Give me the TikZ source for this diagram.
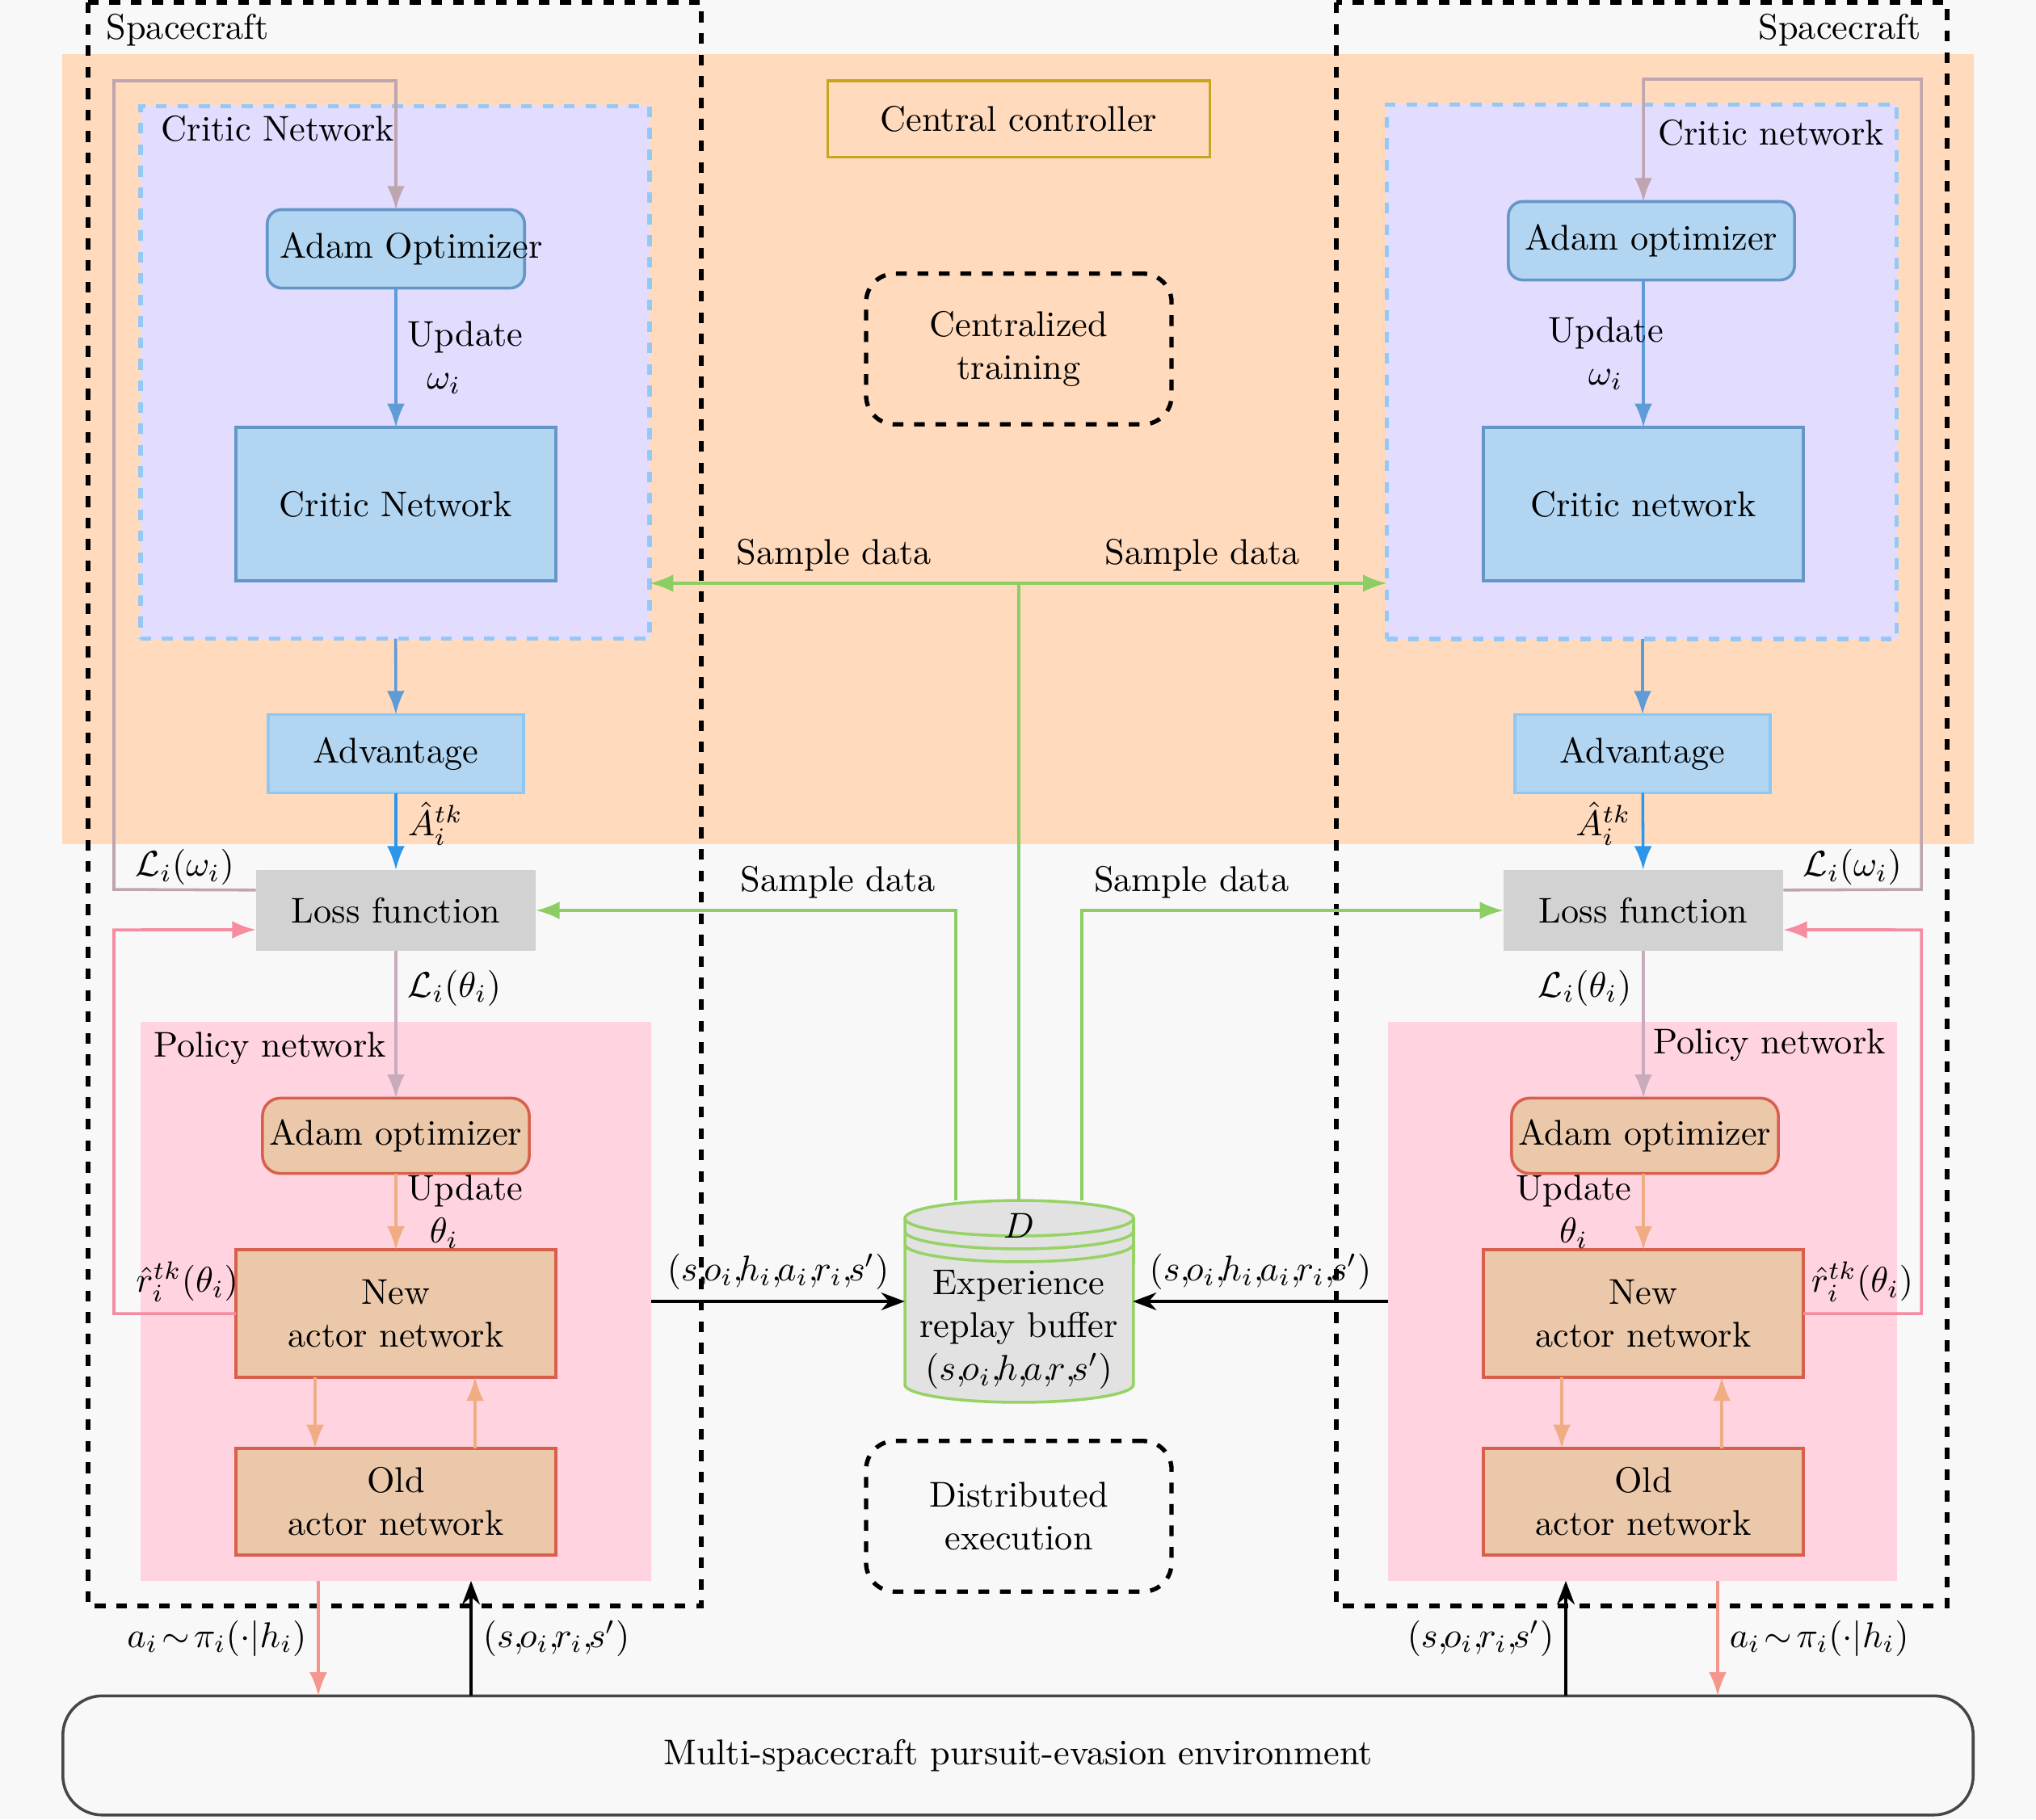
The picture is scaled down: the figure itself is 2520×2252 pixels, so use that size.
\documentclass[tikz,border=0pt]{standalone}
\usepackage{amsmath}
\usepackage{amssymb}
\usepackage{tikz}
\usetikzlibrary{arrows.meta}

\definecolor{bggray}{RGB}{248,248,248}
\definecolor{peachbg}{RGB}{255,218,188}
\definecolor{cregfill}{RGB}{226,220,255}
\definecolor{cregedge}{RGB}{150,200,245}
\definecolor{pregfill}{RGB}{255,211,224}
\definecolor{critfill}{RGB}{178,214,242}
\definecolor{critedge}{RGB}{100,150,200}
\definecolor{advedge}{RGB}{140,200,245}
\definecolor{lossfill}{RGB}{210,210,210}
\definecolor{actfill}{RGB}{236,200,170}
\definecolor{actedge}{RGB}{215,95,75}
\definecolor{ctrledge}{RGB}{200,165,30}
\definecolor{envedge}{RGB}{70,70,70}
\definecolor{critln}{RGB}{95,155,215}
\definecolor{advln}{RGB}{45,150,235}
\definecolor{fbln}{RGB}{190,165,175}
\definecolor{polln}{RGB}{200,172,190}
\definecolor{actln}{RGB}{240,172,130}
\definecolor{pinkln}{RGB}{245,140,160}
\definecolor{envln}{RGB}{245,150,140}
\definecolor{greenln}{RGB}{140,205,100}
\definecolor{buffill}{RGB}{226,226,226}
\definecolor{bufedge}{RGB}{150,210,100}

\newcommand{\tc}{{,}\mkern-2mu}

\begin{document}
\begin{tikzpicture}[x=0.00793cm, y=-0.00793cm,
    every node/.style={outer sep=0pt},
    critbox/.style={draw=critedge, fill=critfill, thick, minimum width=3.14cm, minimum height=1.51cm},
    cadam/.style={draw=critedge, fill=critfill, thick, rounded corners=4pt, minimum height=0.77cm, inner xsep=0pt},
    advbox/.style={draw=advedge, fill=critfill, thick, minimum width=2.51cm, minimum height=0.77cm},
    lossbox/.style={fill=lossfill, minimum width=2.75cm, minimum height=0.8cm},
    padam/.style={draw=actedge, fill=actfill, thick, rounded corners=5pt, minimum width=2.62cm, minimum height=0.74cm, inner xsep=1pt},
    actbox/.style={draw=actedge, fill=actfill, thick, minimum width=3.14cm, align=center},
    phase/.style={draw, very thick, dashed, rounded corners=8pt, minimum width=3cm, minimum height=1.48cm, align=center},
    ctrlbox/.style={draw=ctrledge, thick, minimum width=3.75cm, minimum height=0.75cm},
    envbox/.style={draw=envedge, fill=bggray, thick, rounded corners=11pt, minimum width=18.76cm, minimum height=1.17cm},
    creg/.style={draw=cregedge, fill=cregfill, very thick, dashed},
    preg/.style={fill=pregfill},
    scbox/.style={very thick, dashed},
    cline/.style={-Latex, thick, draw=critln},
    aline/.style={-Latex, thick, draw=advln},
    fline/.style={-Latex, thick, draw=fbln},
    qline/.style={-Latex, thick, draw=polln},
    tline/.style={-Latex, thick, draw=actln},
    pline/.style={-Latex, thick, draw=pinkln},
    eline/.style={-Latex, thick, draw=envln},
    gline/.style={thick, draw=greenln},
    kline/.style={-Stealth, thick}]

\useasboundingbox (0,0) rectangle (2520,2252);
\fill[bggray] (0,0) rectangle (2520,2252);
% centralized training band
\fill[peachbg] (77,67) rectangle (2443,1045);

% critic and policy regions
\node[creg, minimum width=5cm, minimum height=5.23cm] (lcreg) at (489,461) {};
\node[creg, minimum width=5.01cm, minimum height=5.25cm] (rcreg) at (2032,460) {};
\node[preg, minimum width=5.02cm, minimum height=5.49cm] (lpreg) at (490,1611) {};
\node[preg, minimum width=5cm, minimum height=5.49cm] (rpreg) at (2033,1611) {};

% spacecraft boxes
\draw[scbox] (109,3) rectangle (868,1988);
\draw[scbox] (1654,3) rectangle (2410,1988);

\node (lsc) at (232,37) {Spacecraft};
\node (rsc) at (2277,37) {Spacecraft};
\node (lcrt) at (344,159) {Critic Network};
\node (rcrt) at (2192,164) {Critic network};
\node (lpol) at (334,1298) {Policy network};
\node (rpol) at (2190,1294) {Policy network};

% central part
\node[ctrlbox] (ctrl) at (1261,147) {Central controller};
\node[phase] (ctrain) at (1261,432) {Centralized\\training};
\node[phase] (dexec) at (1261,1877) {Distributed\\execution};

\node (buf) at (1261,1611) [minimum width=2.24cm, minimum height=1.98cm] {};
\path[draw=bufedge, fill=buffill, thick] (1120,1508) -- (1120,1714)
    arc[start angle=180, end angle=360, x radius=1.122cm, y radius=0.174cm]
    -- (1403,1508)
    arc[start angle=0, end angle=180, x radius=1.122cm, y radius=0.174cm] -- cycle;
\foreach \dy in {0,16,32}
    \draw[bufedge, thick] (1120,1508+\dy) arc[start angle=180, end angle=360, x radius=1.122cm, y radius=0.174cm];
\node (bufd) at (1261,1517) {$D$};
\node[align=center] (buftxt) at (1261,1646) {Experience\\replay buffer\\$(s\tc o_i\tc h\tc a\tc r\tc s')$};

\node[envbox] (env) at (1260,2173) {Multi-spacecraft pursuit-evasion environment};

% left agent
\node[cadam, minimum width=2.37cm, inner xsep=-5pt] (ladam) at (490,308) {\hspace*{0.3cm}Adam Optimizer};
\node[critbox] (lcrit) at (490,624) {Critic Network};
\node[advbox] (ladv) at (490,933) {Advantage};
\node[lossbox] (lloss) at (490,1127) {Loss function};
\node[padam] (lpadam) at (490,1406) {Adam optimizer};
\node[actbox, minimum height=1.25cm] (lnew) at (490,1626) {New\\actor network};
\node[actbox, minimum height=1.05cm] (lold) at (490,1859) {Old\\actor network};

% right agent
\node[cadam, minimum width=2.81cm, inner xsep=2pt] (radam) at (2044,298) {Adam optimizer};
\node[critbox] (rcrit) at (2034,624) {Critic network};
\node[advbox] (radv) at (2033,933) {Advantage};
\node[lossbox] (rloss) at (2034,1127) {Loss function};
\node[padam] (rpadam) at (2036,1406) {Adam optimizer};
\node[actbox, minimum height=1.25cm] (rnew) at (2034,1626) {New\\actor network};
\node[actbox, minimum height=1.05cm] (rold) at (2034,1859) {Old\\actor network};

% left connectors
\draw[cline] (ladam) -- node[right, align=center]{Update\\$\omega_i$\hspace*{1.2em}} (lcrit);
\draw[cline] (lcreg) -- (ladv);
\draw[aline] (ladv) -- node[pos=.4, right]{$\hat{A}_i^{tk}$} (lloss);
\draw[fline] ([yshift=0.2cm]lloss.west) -- node[above, yshift=-2pt]{$\mathcal{L}_i(\omega_i)$} (141,1101) -- (141,100) -| (ladam.north);
\draw[qline] (lloss) -- node[pos=.25, right]{$\mathcal{L}_i(\theta_i)$} (lpadam);
\draw[tline] (lpadam) -- node[right, align=center]{Update\\$\theta_i$\hspace*{1.2em}} (lnew);
\draw[tline] (lnew.south -| 390,0) -- (lold.north -| 390,0);
\draw[tline] (lold.north -| 588,0) -- (lnew.south -| 588,0);
\draw[pline] (lnew.west) -| node[pos=.2, above]{$\hat{r}_i^{tk}(\theta_i)$} (141,1151) -- ([yshift=-0.19cm]lloss.west);
\draw[eline] (lpreg.south -| 394,0) -- node[left]{$a_i\!\sim\!\pi_i(\cdot|h_i)$} (env.north -| 394,0);
\draw[kline] (env.north -| 583,0) -- node[right]{$(s\tc o_i\tc r_i\tc s')$} (lpreg.south -| 583,0);

% right connectors
\draw[cline] (radam.south -| rcrit) -- node[xshift=-0.37cm, align=center]{Update\\$\omega_i$} (rcrit);
\draw[cline] (rcreg.south -| radv) -- (radv);
\draw[aline] (radv) -- node[pos=.4, left]{$\hat{A}_i^{tk}$} (rloss);
\draw[fline] ([yshift=0.2cm]rloss.east) -- node[above, yshift=-2pt]{$\mathcal{L}_i(\omega_i)$} (2378,1101) -- (2378,98) -| (radam.north -| rcrit);
\draw[qline] (rloss) -- node[pos=.25, left]{$\mathcal{L}_i(\theta_i)$} (rpadam.north -| rloss);
\draw[tline] (rpadam.south -| rnew) -- node[left, align=center]{Update\\$\theta_i$} (rnew);
\draw[tline] (rnew.south -| 1933,0) -- (rold.north -| 1933,0);
\draw[tline] (rold.north -| 2131,0) -- (rnew.south -| 2131,0);
\draw[pline] (rnew.east) -| node[pos=.25, above]{$\hat{r}_i^{tk}(\theta_i)$} (2378,1151) -- ([yshift=-0.19cm]rloss.east);
\draw[kline] (env.north -| 1938,0) -- node[left]{$(s\tc o_i\tc r_i\tc s')$} (rpreg.south -| 1938,0);
\draw[eline] (rpreg.south -| 2126,0) -- node[right]{$a_i\!\sim\!\pi_i(\cdot|h_i)$} (env.north -| 2126,0);

% sampling from the buffer
\draw[gline] (buf.north) -- (buf.north |- 0,722);
\draw[gline, Latex-Latex] (lcreg.east |- 0,722) -- node[pos=.25, above]{Sample data} node[pos=.75, above]{Sample data} (rcreg.west |- 0,722);
\draw[gline, -Latex] ([xshift=-0.62cm]buf.north) |- node[pos=.64, above]{Sample data} (lloss.east);
\draw[gline, -Latex] ([xshift=0.62cm]buf.north) |- node[pos=.63, above]{Sample data} (rloss.west);

% transitions into the buffer
\draw[kline] (lpreg.east |- buf.west) -- node[above]{$(s\tc o_i\tc h_i\tc a_i\tc r_i\tc s')$} (buf.west);
\draw[kline] (rpreg.west |- buf.east) -- node[above]{$(s\tc o_i\tc h_i\tc a_i\tc r_i\tc s')$} (buf.east);
\end{tikzpicture}
\end{document}
